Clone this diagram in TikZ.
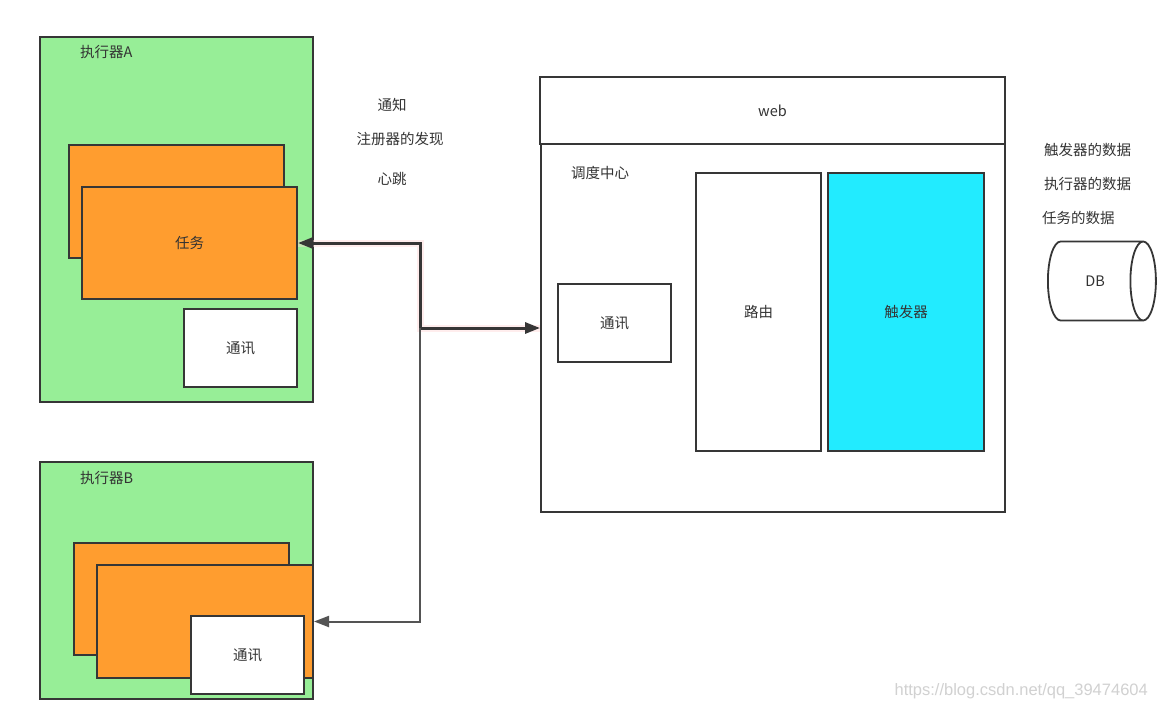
\documentclass[tikz,border=0pt]{standalone}
\usepackage{fontspec}
\setmainfont{Noto Sans CJK SC}
\newfontfamily\markfont{Liberation Sans}
\usepackage{xcolor}
\usetikzlibrary{arrows.meta,shapes.geometric}

\definecolor{exegreen}{HTML}{97EE97}
\definecolor{taskorange}{HTML}{FF9D2F}
\definecolor{trigcyan}{HTML}{22EBFF}
\definecolor{edgegray}{HTML}{363636}

\begin{document}
\begin{tikzpicture}[x=1pt,y=-1pt, >={Triangle[length=15pt,width=11pt]},
    box/.style={draw=edgegray, line width=2pt, rectangle, inner sep=0pt, font=\fontsize{14.5}{17}\selectfont, text=black!80},
    exebox/.style={box, fill=exegreen},
    taskbox/.style={box, fill=taskorange},
    plainbox/.style={box, fill=white},
    txt/.style={inner sep=0pt, font=\fontsize{14.5}{17}\selectfont, text=black!80}]
    \fill[white] (0,0) rectangle (1157,709);
    \useasboundingbox (0,0) rectangle (1157,709);
    % executor A
    \node[exebox, minimum width=273pt, minimum height=365pt] (exeA) at (176.5,219.5) {};
    \node[txt, anchor=west] (exeAlabel) at (80,52) {执行器A};
    \node[taskbox, minimum width=215pt, minimum height=113pt] (taskAback) at (176.5,201.5) {};
    \node[taskbox, minimum width=215pt, minimum height=112pt] (taskA) at (189.5,243) {任务};
    \node[plainbox, minimum width=113pt, minimum height=78pt] (commA) at (240.5,348) {通讯};
    % executor B
    \node[exebox, minimum width=273pt, minimum height=237pt] (exeB) at (176.5,580.5) {};
    \node[txt, anchor=west] (exeBlabel) at (80,478) {执行器B};
    \node[taskbox, minimum width=215pt, minimum height=112pt] (taskBback) at (181.5,599) {};
    \node[taskbox, minimum width=216pt, minimum height=113pt] (taskB) at (205,621.5) {};
    \node[plainbox, minimum width=113pt, minimum height=78pt] (commB) at (247.5,655) {通讯};
    % scheduler
    \node[plainbox, minimum width=465pt, minimum height=67pt] (web) at (772.5,110.5) {web};
    \node[plainbox, minimum width=464pt, minimum height=368pt] (sched) at (773,328) {};
    \node[txt, anchor=west] (schedlabel) at (571,173) {调度中心};
    \node[plainbox, minimum width=113pt, minimum height=78pt] (commS) at (614.5,323) {通讯};
    \node[plainbox, minimum width=125pt, minimum height=278pt] (route) at (758.5,312) {路由};
    \node[box, fill=trigcyan, minimum width=156pt, minimum height=278pt] (trigger) at (906,312) {触发器};
    % notes
    \node[txt] (notice) at (392,105) {通知};
    \node[txt] (discover) at (400,139) {注册器的发现};
    \node[txt] (beat) at (392,179) {心跳};
    \node[txt, anchor=west] (trigdata) at (1044,150) {触发器的数据};
    \node[txt, anchor=west] (exedata) at (1044,184) {执行器的数据};
    \node[txt, anchor=west] (taskdata) at (1042,218) {任务的数据};
    % database
    \node[cylinder, draw=edgegray, line width=1.8pt, fill=white, minimum width=79pt, minimum height=108pt,
        shape aspect=2.4, inner sep=0pt, anchor=west, font=\fontsize{14.5}{17}\selectfont, text=black!80] (db) at (1047,281) {DB};
    % links
    \coordinate (split) at (420,328);
    \draw[pink!60, line width=7pt, opacity=0.45] (taskA.east) -| (split) -- (sched.west);
    \draw[edgegray, line width=3pt, <->] (taskA.east) -| (split) -- (sched.west);
    \draw[edgegray!85, line width=2pt, ->] (split) |- (taskB.east);
    \node[inner sep=0pt, anchor=east, font=\markfont\fontsize{16.5}{19}\selectfont, text=black!18] (mark) at (1148,691) {https://blog.csdn.net/qq\_39474604};
\end{tikzpicture}
\end{document}
